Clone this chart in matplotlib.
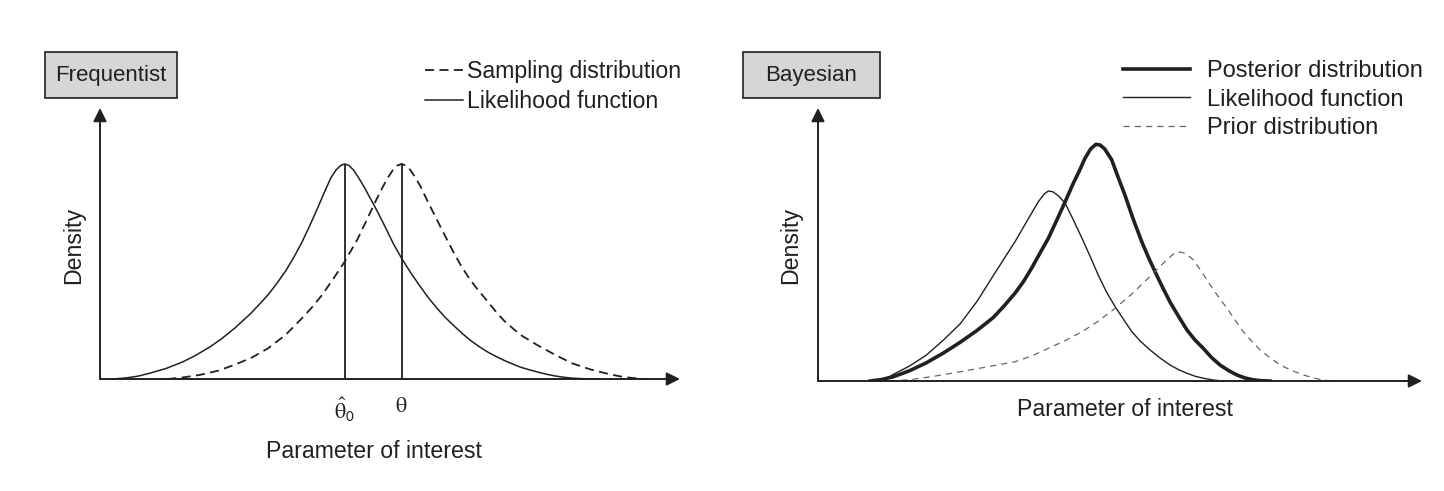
import matplotlib
matplotlib.use("Agg")
import matplotlib.pyplot as plt
from matplotlib.patches import Rectangle

plt.rcParams["font.family"] = ["Liberation Sans", "DejaVu Sans"]
plt.rcParams["mathtext.fontset"] = "stix"

# --- values (parameter units, density units) ---
# frequentist panel
lik_x = [0.22, 0.45, 0.65, 0.86, 1.15, 1.43, 1.65, 1.90, 2.10, 2.33, 2.60, 2.75, 2.90,
         3.05, 3.20, 3.34, 3.48, 3.62, 3.76, 3.88, 3.98, 4.07, 4.15, 4.22, 4.29, 4.37,
         4.46, 4.56, 4.66, 4.80, 4.93, 5.06, 5.20, 5.35, 5.50, 5.65, 5.81, 5.95, 6.10,
         6.24, 6.38, 6.54, 6.70, 6.84, 6.98, 7.12, 7.25, 7.40, 7.55, 7.70, 7.85, 8.00,
         8.14, 8.35, 8.59]
lik_y = [0.000, 0.005, 0.013, 0.027, 0.050, 0.080, 0.110, 0.150, 0.188, 0.238, 0.305,
         0.348, 0.392, 0.445, 0.502, 0.565, 0.635, 0.715, 0.800, 0.875, 0.935, 0.972,
         0.993, 1.000, 0.993, 0.972, 0.935, 0.890, 0.840, 0.770, 0.700, 0.628, 0.561,
         0.497, 0.438, 0.382, 0.329, 0.287, 0.248, 0.213, 0.181, 0.150, 0.123, 0.103,
         0.085, 0.069, 0.055, 0.043, 0.032, 0.022, 0.014, 0.008, 0.004, 0.001, 0.000]
samp_x = [1.16, 1.45, 1.72, 2.03, 2.33, 2.62, 2.90, 3.20, 3.48, 3.66, 3.83, 4.02, 4.22,
          4.44, 4.60, 4.72, 4.84, 4.96, 5.05, 5.13, 5.20, 5.27, 5.35, 5.43, 5.52, 5.66,
          5.81, 5.95, 6.09, 6.23, 6.38, 6.52, 6.67, 6.82, 6.98, 7.25, 7.55, 7.85, 8.14,
          8.45, 8.71, 8.95, 9.17, 9.40]
samp_y = [0.000, 0.008, 0.019, 0.038, 0.067, 0.100, 0.143, 0.205, 0.282, 0.335, 0.391,
          0.465, 0.546, 0.650, 0.740, 0.809, 0.875, 0.935, 0.972, 0.993, 1.000, 0.993,
          0.972, 0.940, 0.898, 0.820, 0.740, 0.665, 0.592, 0.524, 0.462, 0.413, 0.365,
          0.315, 0.267, 0.205, 0.156, 0.112, 0.073, 0.045, 0.027, 0.013, 0.005, 0.000]
theta_hat0 = 4.22
theta = 5.20

# bayesian panel
post_x = [0.90, 1.10, 1.30, 1.58, 1.87, 2.16, 2.45, 2.74, 3.02, 3.21, 3.40, 3.54, 3.68,
          3.82, 3.97, 4.11, 4.26, 4.40, 4.50, 4.60, 4.70, 4.79, 4.86, 4.94, 5.06, 5.17,
          5.29, 5.43, 5.58, 5.70, 5.81, 5.94, 6.07, 6.22, 6.36, 6.50, 6.64, 6.78, 6.93,
          7.08, 7.22, 7.36, 7.51, 7.65, 7.79]
post_y = [0.000, 0.007, 0.020, 0.048, 0.085, 0.130, 0.180, 0.235, 0.295, 0.350, 0.410,
          0.462, 0.524, 0.592, 0.664, 0.745, 0.834, 0.920, 0.975, 1.035, 1.080, 1.101,
          1.098, 1.080, 1.030, 0.950, 0.865, 0.755, 0.648, 0.572, 0.508, 0.435, 0.366,
          0.298, 0.237, 0.190, 0.152, 0.110, 0.074, 0.048, 0.028, 0.014, 0.005, 0.001,
          0.000]
blik_x = [1.07, 1.18, 1.30, 1.58, 1.87, 2.16, 2.45, 2.74, 3.02, 3.21, 3.40, 3.55, 3.68,
          3.80, 3.90, 3.97, 4.05, 4.15, 4.26, 4.40, 4.55, 4.69, 4.83, 4.97, 5.12, 5.27,
          5.41, 5.55, 5.69, 5.88, 6.07, 6.22, 6.36, 6.50, 6.64, 6.80, 6.98]
blik_y = [0.000, 0.012, 0.031, 0.070, 0.121, 0.190, 0.266, 0.370, 0.490, 0.570, 0.650,
          0.720, 0.780, 0.835, 0.870, 0.884, 0.880, 0.860, 0.827, 0.750, 0.664, 0.580,
          0.493, 0.415, 0.346, 0.285, 0.229, 0.187, 0.152, 0.110, 0.074, 0.052, 0.036,
          0.022, 0.013, 0.005, 0.000]
prior_x = [1.24, 1.59, 2.00, 2.45, 2.90, 3.40, 3.70, 3.97, 4.26, 4.55, 4.84, 5.12, 5.41,
           5.69, 5.90, 6.07, 6.15, 6.21, 6.28, 6.35, 6.47, 6.62, 6.76, 6.90, 7.05, 7.19,
           7.33, 7.48, 7.62, 7.80, 7.97, 8.17, 8.37, 8.55, 8.72, 8.83]
prior_y = [0.000, 0.006, 0.022, 0.043, 0.065, 0.090, 0.118, 0.152, 0.188, 0.229, 0.280,
           0.338, 0.405, 0.478, 0.535, 0.578, 0.596, 0.601, 0.598, 0.590, 0.563, 0.505,
           0.447, 0.392, 0.338, 0.283, 0.229, 0.184, 0.144, 0.106, 0.074, 0.048, 0.028,
           0.013, 0.005, 0.000]

W, H = 1444, 491
INK = "#231f20"
FS = 16.7

fig = plt.figure(figsize=(W / 100, H / 100), dpi=100)


def px(x, y):
    # figure pixel (from top-left) -> figure fraction
    return x / W, 1 - y / H


def add_panel(x0, x1, y_axis, y_top, xmax, ymax):
    l, b = px(x0, y_axis)
    r, t = px(x1, y_top)
    ax = fig.add_axes([l, b, r - l, t - b])
    ax.set_xlim(0, xmax)
    ax.set_ylim(0, ymax)
    for s in ax.spines.values():
        s.set_visible(False)
    ax.set_yticks([])
    arrow = dict(arrowstyle="-|>", mutation_scale=20, color=INK, lw=1.4,
                 shrinkA=0, shrinkB=0)
    ax.annotate("", xy=(xmax, 0), xytext=(0, 0), arrowprops=arrow, annotation_clip=False)
    ax.annotate("", xy=(0, ymax), xytext=(0, 0), arrowprops=arrow, annotation_clip=False)
    return ax


def title_box(x0, x1, text):
    l, b = px(x0, 98)
    r, t = px(x1, 52)
    fig.patches.append(Rectangle((l, b), r - l, t - b, transform=fig.transFigure,
                                 facecolor="#d6d6d6", edgecolor=INK, lw=1.2))
    fig.text((l + r) / 2, (b + t) / 2, text, ha="center", va="center",
             fontsize=16, color=INK)


# ---------------- Frequentist ----------------
ax1 = add_panel(100, 680, 379, 108, 10.0, 1.26)
ax1.plot(samp_x, samp_y, color=INK, lw=1.3, dashes=(5, 3), label="Sampling distribution")
ax1.plot(lik_x, lik_y, color=INK, lw=1.1, label="Likelihood function")
ax1.vlines([theta_hat0, theta], 0, max(lik_y), color=INK, lw=1.3)
ax1.set_xticks([theta_hat0, theta],
               [r"$\hat{\mathrm{\theta}}_{\mathsf{0}}$", r"$\mathrm{\theta}$"])
ax1.tick_params(axis="x", length=0, pad=12, labelsize=16, labelcolor=INK)
ax1.legend(loc="upper left", bbox_to_anchor=px(425, 60), bbox_transform=fig.transFigure,
           frameon=False, fontsize=FS, handlelength=1.63, handletextpad=0.2,
           labelspacing=0.3, borderpad=0, borderaxespad=0, labelcolor=INK)
fig.text(*px(374, 452), "Parameter of interest", ha="center", va="center",
         fontsize=FS, color=INK)
fig.text(*px(74, 245), "Density", ha="center", va="center", rotation=90,
         fontsize=FS, color=INK)
title_box(45, 177, "Frequentist")

# ---------------- Bayesian ----------------
ax2 = add_panel(818, 1422, 381, 108, 10.41, 1.27)
ax2.set_xticks([])
ax2.plot(post_x, post_y, color=INK, lw=2.6, label="Posterior distribution")
ax2.plot(blik_x, blik_y, color=INK, lw=1.0, label="Likelihood function")
ax2.plot(prior_x, prior_y, color="#666666", lw=0.9, dashes=(5, 4), label="Prior distribution")
ax2.legend(loc="upper left", bbox_to_anchor=px(1123, 60), bbox_transform=fig.transFigure,
           frameon=False, fontsize=17, handlelength=2.85, handletextpad=0.72,
           labelspacing=0.28, borderpad=0, borderaxespad=0, labelcolor=INK)
fig.text(*px(1125, 410), "Parameter of interest", ha="center", va="center",
         fontsize=FS, color=INK)
fig.text(*px(791, 245), "Density", ha="center", va="center", rotation=90,
         fontsize=FS, color=INK)
title_box(743, 880, "Bayesian")

fig.savefig("out.png", dpi=100, facecolor="white")
